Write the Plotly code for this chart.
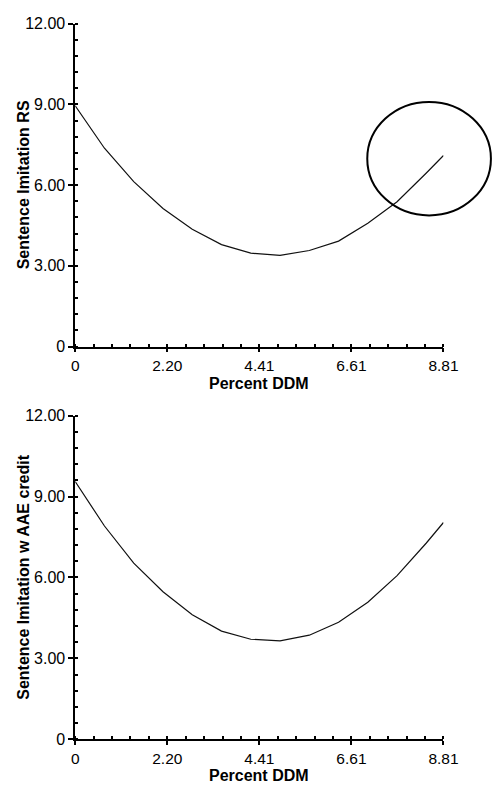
import plotly.graph_objects as go

# ---- data ----
x_ddm = [0, 0.7, 1.4, 2.1, 2.8, 3.5, 4.2, 4.9, 5.6, 6.3, 7.0, 7.7, 8.4, 8.81]
y_rs = [8.95, 7.37, 6.13, 5.13, 4.36, 3.79, 3.47, 3.39, 3.57, 3.92, 4.58, 5.38, 6.45, 7.10]
y_aae = [9.56, 7.91, 6.53, 5.47, 4.62, 4.01, 3.71, 3.65, 3.86, 4.34, 5.08, 6.07, 7.28, 8.04]

x_tickvals = [0, 2.2025, 4.405, 6.6075, 8.81]
x_ticktext = ["0", "2.20", "4.41", "6.61", "8.81"]
y_tickvals = [0, 3, 6, 9, 12]
y_ticktext = ["0", "3.00", "6.00", "9.00", "12.00"]

x_title = "Percent DDM"
y_title_top = "Sentence Imitation RS"
y_title_bottom = "Sentence Imitation w AAE credit"

W, H = 504, 791
FONT = "Liberation Sans, Arial, sans-serif"

def px_x(p):
    return p / W

def px_y(p):
    return 1 - p / H

fig = go.Figure()
fig.add_trace(go.Scatter(x=x_ddm, y=y_rs, mode="lines", xaxis="x", yaxis="y",
                         line=dict(color="#111111", width=1.2), showlegend=False))
fig.add_trace(go.Scatter(x=x_ddm, y=y_aae, mode="lines", xaxis="x2", yaxis="y2",
                         line=dict(color="#111111", width=1.2), showlegend=False))

xdom = [px_x(74), px_x(456.7)]
top_dom = [px_y(346), px_y(16)]
bot_dom = [px_y(747.3), px_y(416.7)]

def xaxis(anchor):
    return dict(domain=xdom, anchor=anchor, range=[0, 8.81], showgrid=False, zeroline=False,
                showline=True, linecolor="black", linewidth=1.5,
                tickmode="array", tickvals=x_tickvals, ticktext=x_ticktext,
                ticks="outside", ticklen=4, tickwidth=1.5, tickcolor="black",
                tickfont=dict(family=FONT, size=15.5, color="black"),
                minor=dict(ticks="inside", ticklen=3, tickwidth=1.5, tickcolor="black",
                           tick0=0, dtick=0.4405, showgrid=False))

def yaxis(anchor, dom):
    return dict(domain=dom, anchor=anchor, range=[0, 12], showgrid=False, zeroline=False,
                showline=True, linecolor="black", linewidth=1.5,
                tickmode="array", tickvals=y_tickvals, ticktext=y_ticktext,
                ticks="outside", ticklen=5, tickwidth=1.5, tickcolor="black",
                tickfont=dict(family=FONT, size=16, color="black"),
                minor=dict(ticks="inside", ticklen=3, tickwidth=1.5, tickcolor="black",
                           tick0=0, dtick=0.6, showgrid=False))

annotations = []
for (cy, label) in [((16 + 346) / 2, y_title_top), ((416.7 + 747.3) / 2, y_title_bottom)]:
    annotations.append(dict(text="<b>%s</b>" % label, x=px_x(20), y=px_y(cy), xref="paper", yref="paper",
                            showarrow=False, textangle=-90, xanchor="center", yanchor="middle",
                            font=dict(family=FONT, size=16, color="black")))
for cy in [383.5, 784]:
    annotations.append(dict(text="<b>%s</b>" % x_title, x=px_x(265.3), y=px_y(cy), xref="paper", yref="paper",
                            showarrow=False, xanchor="center", yanchor="middle",
                            font=dict(family=FONT, size=16, color="black")))

fig.update_layout(
    width=W, height=H, autosize=False, margin=dict(l=0, r=0, t=0, b=0, pad=0),
    paper_bgcolor="white", plot_bgcolor="white",
    xaxis=xaxis("y"), yaxis=yaxis("x", top_dom),
    xaxis2=xaxis("y2"), yaxis2=yaxis("x2", bot_dom),
    annotations=annotations,
    shapes=[dict(type="circle", xref="paper", yref="paper",
                 x0=px_x(377.5), x1=px_x(506), y0=px_y(212), y1=px_y(96),
                 line=dict(color="black", width=2))],
)

fig.write_html("out.html", config={"responsive": False},
               post_script="document.body.style.margin='0';document.body.style.overflow='hidden';")
